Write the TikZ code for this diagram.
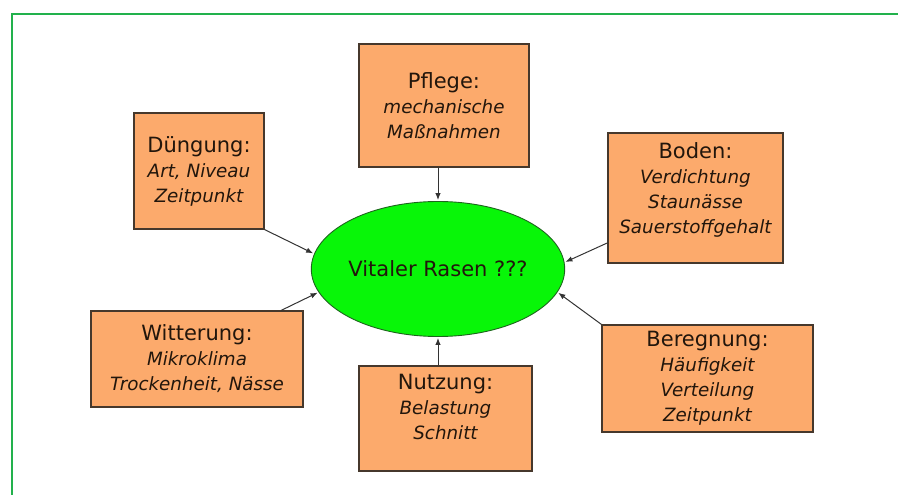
\documentclass[tikz,border=0pt]{standalone}
\usepackage{fontspec}
\setmainfont{DejaVu Sans}
\usepackage{tikz}
\usetikzlibrary{arrows.meta,shapes.geometric}
\definecolor{boxfill}{RGB}{252,170,108}
\definecolor{boxline}{RGB}{70,56,44}
\definecolor{rasengruen}{RGB}{8,246,8}
\definecolor{rasenrand}{RGB}{30,100,30}
\definecolor{rahmen}{RGB}{34,177,76}
\definecolor{schrift}{RGB}{34,22,12}
\newcommand{\titel}[1]{{\upshape\fontsize{21}{27}\selectfont #1}}

\begin{document}
\begin{tikzpicture}[x=1pt,y=-1pt,
faktor/.style={draw=boxline,line width=1.2pt,fill=boxfill,text=schrift,align=center,
  inner sep=0pt,font=\fontsize{18.3}{25}\selectfont\itshape},
pfeil/.style={-{Latex[length=7pt,width=5.5pt]},draw=black!80,line width=1pt,shorten >=1pt}]
\useasboundingbox (0,0) rectangle (898,495);
\draw[rahmen,line width=1.6pt] (12,495) -- (12,14) -- (898,14);

\node[ellipse,draw=rasenrand,line width=0.9pt,fill=rasengruen,minimum width=251pt,
  minimum height=135pt,inner sep=0pt,text=schrift,font=\fontsize{21}{24}\selectfont]
  (rasen) at (438,269) {Vitaler Rasen ???};

\node[faktor,minimum width=170pt,minimum height=123pt] (pflege) at (444,105.5)
  {\titel{Pflege:}\\mechanische\\Maßnahmen};
\node[faktor,minimum width=130pt,minimum height=116pt] (duengung) at (199,171)
  {\titel{Düngung:}\\Art, Niveau\\Zeitpunkt};
\node[faktor,minimum width=175pt,minimum height=130pt] (boden) at (695.5,198)
  {\titel{Boden:}\\Verdichtung\\Staunässe\\Sauerstoffgehalt\\[-6pt]~};
\node[faktor,minimum width=212pt,minimum height=96pt] (witterung) at (197,359)
  {\titel{Witterung:}\\Mikroklima\\Trockenheit, Nässe};
\node[faktor,minimum width=173pt,minimum height=105pt] (nutzung) at (445.5,418.5)
  {\titel{Nutzung:}\\Belastung\\Schnitt\\[-2pt]~};
\node[faktor,minimum width=211pt,minimum height=107pt] (beregnung) at (707.5,378.5)
  {\titel{Beregnung:}\\Häufigkeit\\Verteilung\\Zeitpunkt};

% Einflussfaktoren
\draw[pfeil] (pflege.south -| rasen.north) -- (rasen.north);
\draw[pfeil] (duengung.south east) -- (rasen.173);
\draw[pfeil] (boden.207) -- (rasen.3);
\draw[pfeil] (witterung.30) -- (rasen.191);
\draw[pfeil] (nutzung.north -| rasen.south) -- (rasen.south);
\draw[pfeil] (beregnung.north west) -- (rasen.349);
\end{tikzpicture}
\end{document}
